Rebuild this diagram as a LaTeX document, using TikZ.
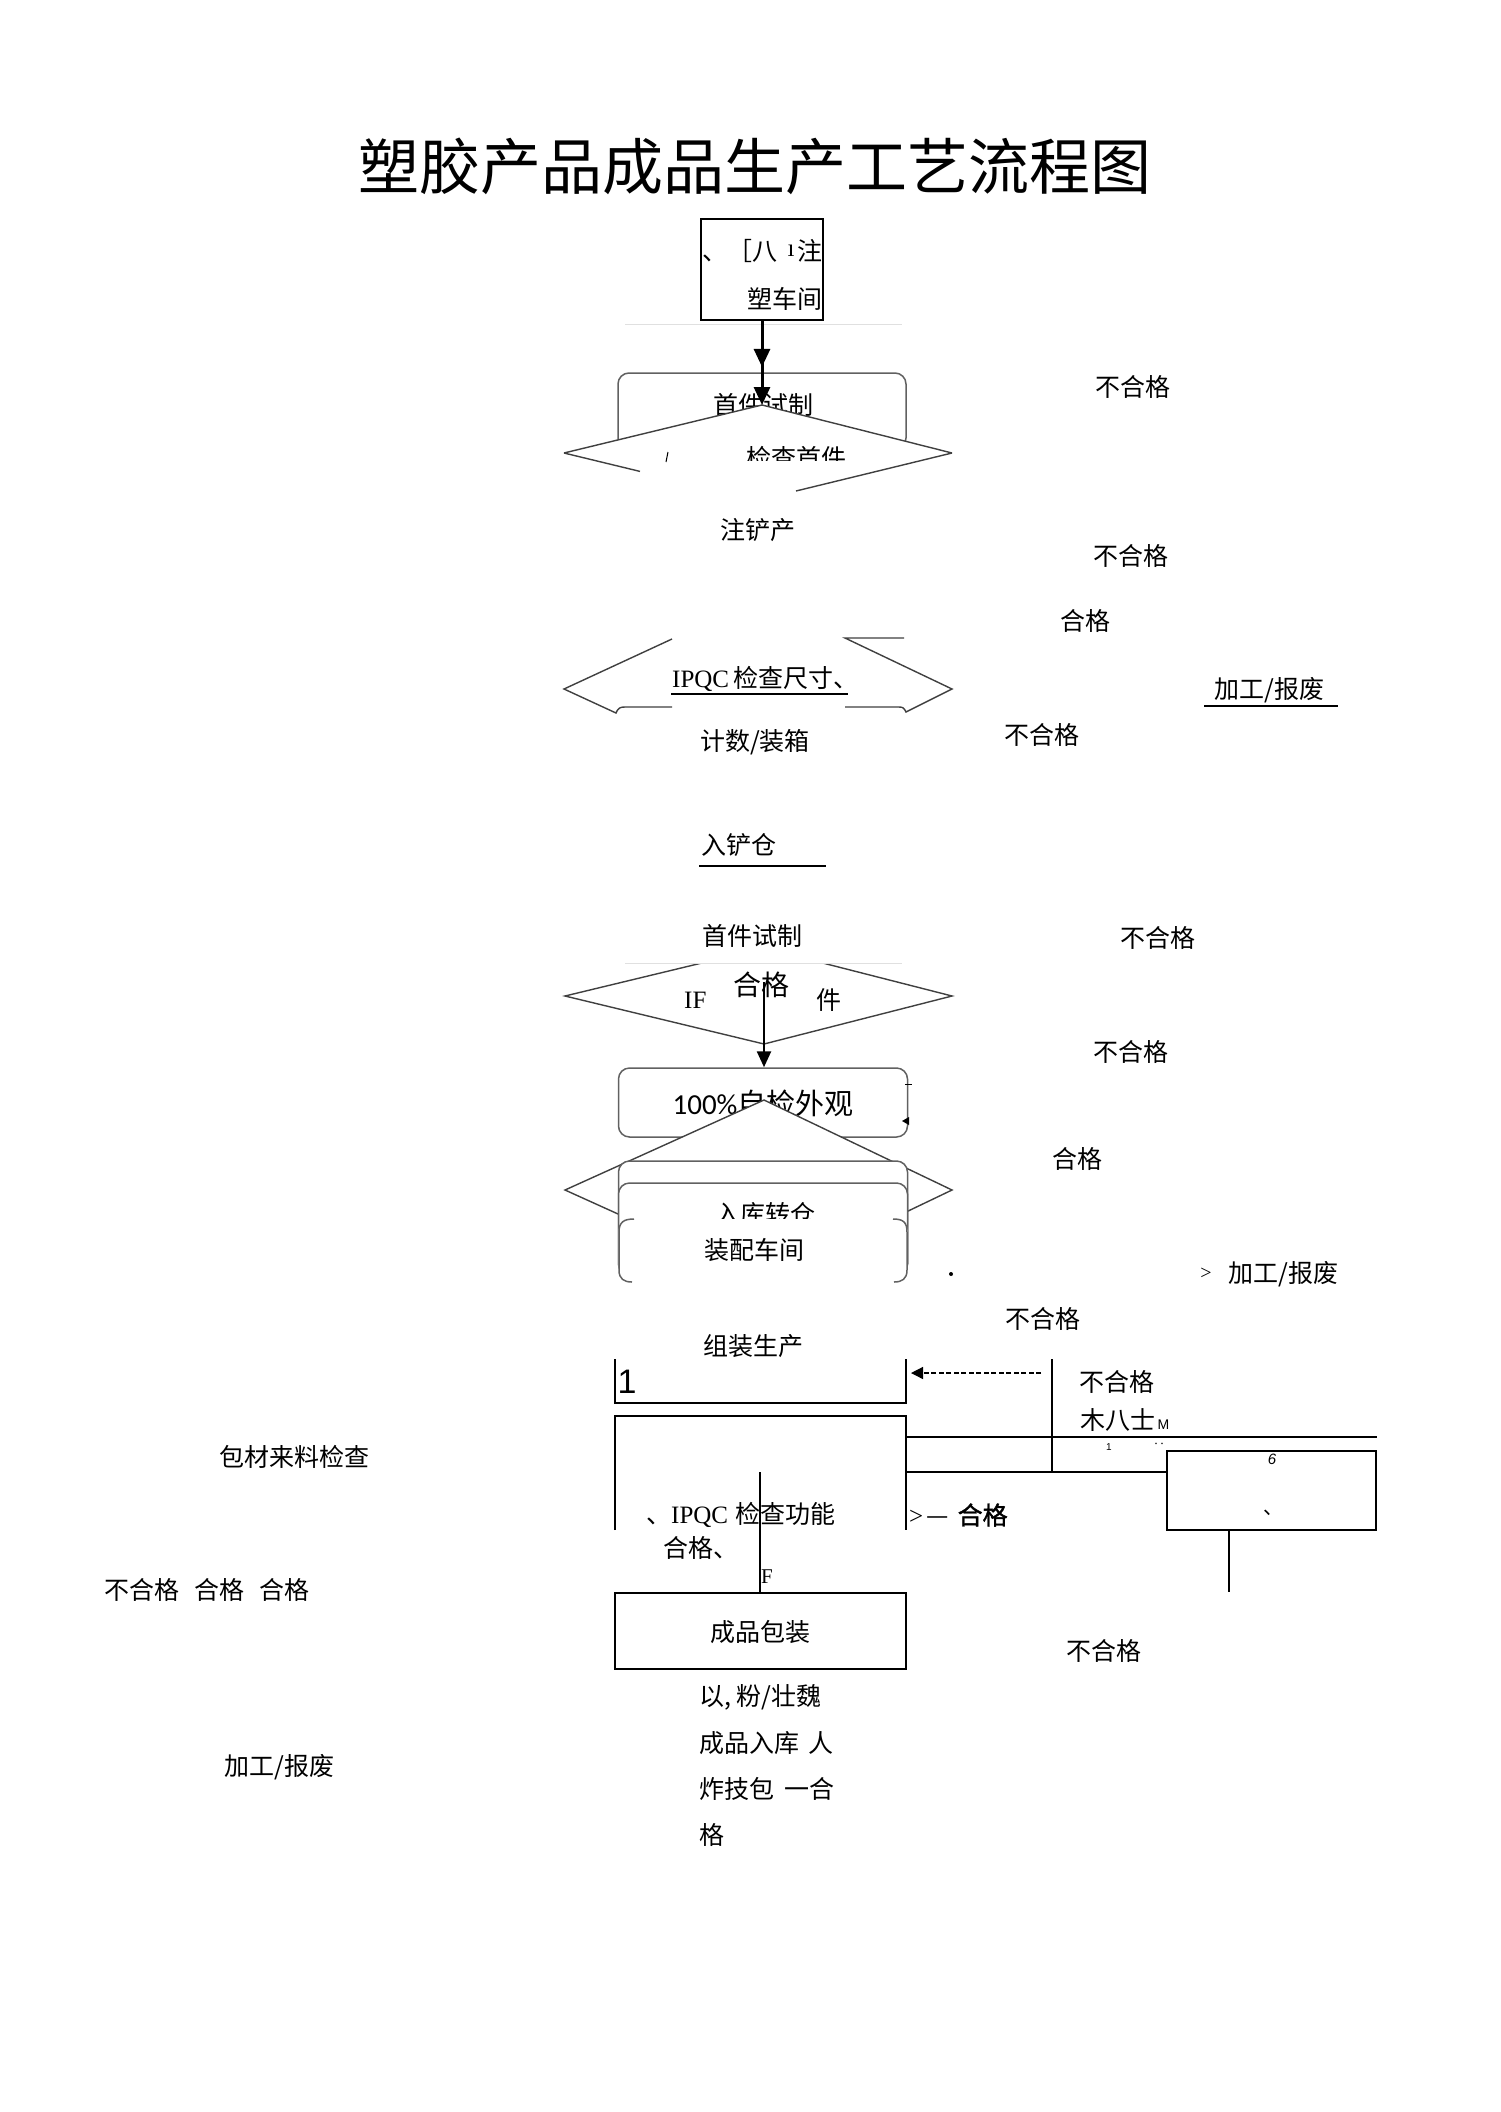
\documentclass[tikz,border=0pt]{standalone}
\usepackage{fontspec}
\setmainfont{Noto Sans CJK SC}
\newfontfamily\lat{Liberation Serif}
\newfontfamily\calib{Carlito}
\newfontfamily\sansf{Liberation Sans}
\newfontfamily\cjkbold[FakeBold=1.5]{Noto Sans CJK SC}
\usetikzlibrary{arrows.meta}
\begin{document}
\begin{tikzpicture}[x=1pt,y=-1pt,
  lbl/.style={inner sep=0pt, font=\fontsize{25}{25}\selectfont},
  latlbl/.style={inner sep=0pt, font=\lat\fontsize{25}{25}\selectfont},
  blk/.style={draw=black, line width=1.8pt},
  gbox/.style={draw=black!62, line width=1.5pt, rounded corners=11pt, inner sep=0pt},
  dia/.style={draw=black!75, line width=1.4pt},
  faint/.style={draw=black!12, line width=0.8pt},
  bigarrow/.style={line width=3pt, -{Triangle[length=18pt,width=16pt]}},
]
\fill[white] (0,0) rectangle (1501,2112);
\useasboundingbox (0,0) rectangle (1501,2112);

% title
\node[inner sep=0pt, font=\fontsize{61}{61}\selectfont] (title) at (755,166) {塑胶产品成品生产工艺流程图};

% top box
\node[blk, minimum width=122pt, minimum height=101pt, inner sep=0pt] (inj) at (762,269.5) {};
\node[lbl, anchor=west] (inj1) at (702,251) {、［八};
\node[latlbl] (inj1b) at (791,251) {ı};
\node[lbl, anchor=east] (inj1c) at (823,251) {注};
\node[lbl, anchor=east] (inj2) at (823,299) {塑车间};
\draw[faint] (625,324) -- (902,324);

% first trial box
\node[gbox, minimum width=288pt, minimum height=76pt] (trial1) at (762,411) {};
\node[lbl] (trial1t) at (763,405) {首件试制};

% diamond 1
\coordinate (d1t) at (762,405);
\coordinate (d1l) at (564,453);
\coordinate (d1r) at (952,453);
\coordinate (d1b) at (762,501);
\fill[white] (d1t) -- (d1r) -- (d1b) -- (d1l) -- cycle;
\draw[dia] (d1l) -- (d1t) -- (d1r);
\draw[dia] (d1l) -- (640,471.4);
\draw[dia] (d1r) -- (796,491);
\begin{scope}
\clip (745,430) rectangle (850,460);
\node[lbl] (chk1) at (796,458) {检查首件};
\end{scope}
\draw[line width=1pt] (668,452) -- (666,462);

% arrows from top box
\draw[bigarrow] (inj.south) -- ++(0,46);
\draw[bigarrow] (inj.south) -- (d1t);

\node[lbl] (inj3) at (758,530) {注铲产};

% diamond 2 (IPQC)
\draw[dia] (672,639) -- (564,689) -- (616,713) .. controls (618,708) and (620,707) .. (625,707) -- (672,707);
\draw[dia] (904,638) -- (845,638) -- (952,689) -- (906,712) .. controls (904,708) and (903,707) .. (899,707) -- (845,707);
\node[lbl, anchor=west] (ipqc1) at (672,679) {{\lat IPQC}\hspace{4pt}检查尺寸、};
\draw[line width=1.2pt] (671,694) -- (848,694);
\node[lbl] (count) at (755,742) {计数/装箱};
\node[lbl, anchor=west] (store1) at (701,845) {入铲仓};
\draw[line width=1.2pt] (699,866) -- (826,866);

% diamond 3
\coordinate (d3t) at (764,948);
\coordinate (d3r) at (952,996);
\coordinate (d3b) at (764,1044);
\coordinate (d3l) at (565,996);
\filldraw[dia, fill=white] (d3l) -- (d3t) -- (d3r) -- (d3b) -- cycle;
\fill[white] (625,900) rectangle (902,963);
\draw[faint] (625,963) -- (902,963);
\node[lbl] (trial2) at (752,936) {首件试制};
\node[latlbl, anchor=west] (if) at (684,1000) {IF};
\node[lbl] (jian) at (829,1000) {件};
\node[inner sep=0pt, font=\fontsize{28}{28}\selectfont] (ok3) at (761,985) {合格};

% 100% box
\node[gbox, minimum width=289pt, minimum height=69pt] (self) at (763,1102.5) {};
\node[inner sep=0pt, font=\fontsize{29}{29}\selectfont] (selft) at (763,1103) {{\calib 100\%}自检外观};
\coordinate (a3) at (764,982);
\draw[line width=2.5pt, -{Triangle[length=16pt,width=14pt]}] (a3) -- (self.north -| a3);
\draw[line width=1pt] (905,1084) -- (912,1084);
\fill (902,1121) -- (909,1117) -- (909,1125) -- cycle;

% diamond 4 and stacked boxes
\filldraw[dia, fill=white] (764,1100) -- (952,1190) -- (764,1280) -- (565,1190) -- cycle;
\node[gbox, fill=white, minimum width=289pt, minimum height=114pt] (boxa) at (763,1218) {};
\node[gbox, fill=white, minimum width=289pt, minimum height=92pt] (boxb) at (763,1229) {};
\node[lbl] (storet) at (765,1214) {入库转仓};
\node[fill=white, rounded corners=11pt, minimum width=289pt, minimum height=63pt, inner sep=0pt] (asm) at (763,1250.5) {};
\draw[draw=black!62, line width=1.5pt] (634,1219) .. controls (624,1219) and (619,1222) .. (619,1232) -- (619,1270) .. controls (619,1279) and (624,1282) .. (632,1282);
\draw[draw=black!62, line width=1.5pt] (893,1219) .. controls (903,1219) and (907,1222) .. (907,1232) -- (907,1270) .. controls (907,1279) and (902,1282) .. (894,1282);
\node[lbl] (asmt) at (754,1250) {装配车间};
\fill (951,1274) circle (2pt);

% right labels upper
\node[lbl] (ng1) at (1133,387) {不合格};
\node[lbl] (ng2) at (1131,556) {不合格};
\node[lbl] (ok1) at (1085,621) {合格};
\node[lbl, anchor=west] (rw1) at (1214,690) {加工/报废};
\draw[line width=1.2pt] (1204,706) -- (1338,706);
\node[lbl] (ng3) at (1042,735) {不合格};
\node[lbl] (ng4) at (1158,938) {不合格};
\node[lbl] (ng5) at (1131,1052) {不合格};
\node[lbl] (ok2) at (1077,1159) {合格};
\node[inner sep=0pt, font=\lat\fontsize{20}{20}\selectfont] (gt1) at (1206,1274) {>};
\node[lbl, anchor=west] (rw2) at (1228,1274) {加工/报废};
\node[lbl] (ng6) at (1043,1319) {不合格};

% lower section
\node[lbl] (assy) at (753,1346) {组装生产};
\draw[blk] (615,1359) -- (615,1403) -- (906,1403) -- (906,1359);
\node[inner sep=0pt, font=\sansf\fontsize{34}{34}\selectfont] (one) at (627,1382) {1};
\coordinate (dashs) at (1041,1373);
\coordinate (dashe) at (911,1373);
\draw[line width=1.3pt, dash pattern=on 5pt off 2.5pt, -{Triangle[length=12pt,width=12pt]}] (dashs) -- (dashe);
\draw[line width=1.3pt] (1052,1359) -- (1052,1472);
\node[lbl] (ng7) at (1117,1382) {不合格};
\node[lbl, anchor=west] (mu) at (1080,1420) {木八士{\sansf\fontsize{14}{14}\selectfont\,M}};
\node[inner sep=0pt, font=\sansf\fontsize{10}{10}\selectfont] (m1) at (1109,1447) {1};
\node[inner sep=0pt, font=\fontsize{12}{12}\selectfont] (m2) at (1159,1446) {‥};

\draw[blk] (615,1530) -- (615,1416) -- (906,1416) -- (906,1530);
\draw[line width=1.5pt] (906,1437) -- (1377,1437);
\draw[line width=1.5pt] (906,1472) -- (1167,1472);
\node[draw, line width=1.6pt, minimum width=209pt, minimum height=79pt, inner sep=0pt] (box6) at (1271.5,1490.5) {};
\node[inner sep=0pt, font=\sansf\itshape\fontsize{15}{15}\selectfont] (six) at (1272,1459) {6};
\node[inner sep=0pt, font=\fontsize{20}{20}\selectfont] (dun) at (1273,1513) {、};
\coordinate (b6e) at (1229,1592);
\draw[line width=1.5pt] (box6.south -| b6e) -- (b6e);

\node[lbl, anchor=west] (ipqc2) at (646,1515) {、{\lat IPQC}\hspace{7pt}检查功能};
\node[lbl, anchor=west] (ok4) at (663,1548) {合格、};
\node[latlbl, font=\lat\fontsize{21}{21}\selectfont] (eff) at (767,1577) {F};
\node[lbl, anchor=west] (ok5) at (909,1515) {{\lat >}\hspace{3pt}—\hspace{9pt}{\cjkbold 合格}};

\node[blk, minimum width=291pt, minimum height=76pt, inner sep=0pt] (pack) at (760.5,1631) {};
\coordinate (pv) at (760,1472);
\draw[line width=1.3pt] (pv) -- (pack.north -| pv);
\node[lbl] (packt) at (760,1632) {成品包装};
\node[lbl] (ng8) at (1104,1651) {不合格};

\node[lbl, anchor=west] (l1) at (699,1697) {以, 粉/壮魏};
\node[lbl, anchor=west] (l2) at (699,1743) {成品入库\hspace{9pt}人};
\node[lbl, anchor=west] (l3) at (699,1789) {炸技包\hspace{10pt}一合};
\node[lbl, anchor=west] (l4) at (699,1835) {格};

% left labels
\node[lbl, anchor=west] (pm) at (219,1457) {包材来料检查};
\node[lbl, anchor=west] (pmr) at (104,1590) {不合格\hspace{15pt}合格\hspace{15pt}合格};
\node[lbl, anchor=west] (rw3) at (224,1767) {加工/报废};
\end{tikzpicture}
\end{document}
